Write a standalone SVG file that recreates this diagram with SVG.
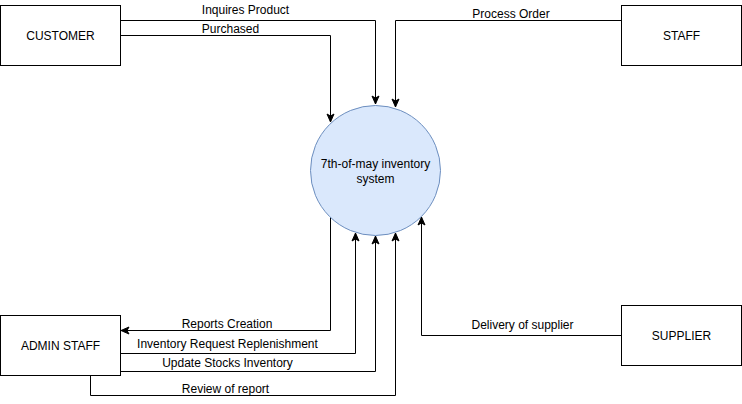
<svg xmlns="http://www.w3.org/2000/svg" width="742" height="404" viewBox="0 0 742 404">
<style>
.box{fill:#fff;stroke:#000;stroke-width:1}
.lbl{font-family:"Liberation Sans",Arial,sans-serif;font-size:12px;fill:#000;text-anchor:middle}
.edge{fill:none;stroke:#000;stroke-width:1}
</style>
<defs>
<marker id="arr" markerUnits="userSpaceOnUse" markerWidth="10" markerHeight="10" viewBox="0 0 10 10" refX="9" refY="5" orient="auto">
<path d="M1,1.5 L9,5 L1,8.5 L3,5 Z" fill="#000" stroke="#000" stroke-width="1"/>
</marker>
</defs>
<rect width="742" height="404" fill="#fff"/>
<g id="connectors">
<path class="edge" d="M120.5,20.5 H375.5 V104" marker-end="url(#arr)"/>
<path class="edge" d="M120.5,35.5 H330.5 V122" marker-end="url(#arr)"/>
<path class="edge" d="M621.5,20.5 H395.5 V107" marker-end="url(#arr)"/>
<path class="edge" d="M330.5,217 V330.5 H121" marker-end="url(#arr)"/>
<path class="edge" d="M120.5,353.5 H355.5 V233" marker-end="url(#arr)"/>
<path class="edge" d="M120.5,371.5 H375.5 V236" marker-end="url(#arr)"/>
<path class="edge" d="M90.5,375.5 V395.5 H395.5 V233" marker-end="url(#arr)"/>
<path class="edge" d="M621.5,335.5 H421.5 V217" marker-end="url(#arr)"/>
<text class="lbl" x="245.5" y="14">Inquires Product</text>
<text class="lbl" x="230.5" y="33">Purchased</text>
<text class="lbl" x="511" y="18">Process Order</text>
<text class="lbl" x="227" y="328">Reports Creation</text>
<text class="lbl" x="227.5" y="348">Inventory Request Replenishment</text>
<text class="lbl" x="227.5" y="367">Update Stocks Inventory</text>
<text class="lbl" x="225.5" y="393">Review of report</text>
<text class="lbl" x="522.5" y="329">Delivery of supplier</text>
</g>
<g id="customer">
<rect class="box" x="0.5" y="5.5" width="120" height="60"/>
<text class="lbl" x="60.5" y="40">CUSTOMER</text>
</g>
<g id="staff">
<rect class="box" x="621.5" y="5.5" width="120" height="60"/>
<text class="lbl" x="681.5" y="40">STAFF</text>
</g>
<g id="system">
<circle cx="375.5" cy="170.5" r="65" fill="#dae8fc" stroke="#6c8ebf" stroke-width="1"/>
<text class="lbl" x="375.5" y="168">7th-of-may inventory</text>
<text class="lbl" x="375.5" y="183">system</text>
</g>
<g id="admin-staff">
<rect class="box" x="0.5" y="315.5" width="120" height="60"/>
<text class="lbl" x="60.5" y="350">ADMIN STAFF</text>
</g>
<g id="supplier">
<rect class="box" x="621.5" y="305.5" width="120" height="60"/>
<text class="lbl" x="681.5" y="340">SUPPLIER</text>
</g>
</svg>
